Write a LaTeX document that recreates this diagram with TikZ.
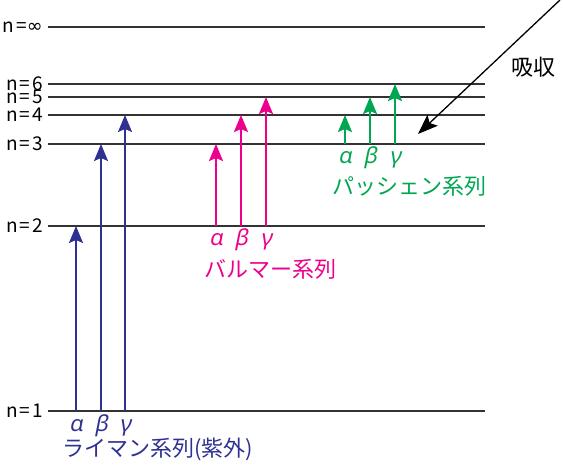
\documentclass[tikz,border=0pt]{standalone}
\usepackage{fontspec}
\setmainfont{Noto Sans CJK JP}
\newfontfamily\grk{Noto Sans}[FakeSlant=0.2]
\newfontfamily\lvfont{Noto Sans CJK JP}[LetterSpace=10]
\newfontfamily\inffont{DejaVu Sans}
\usetikzlibrary{arrows.meta, positioning}
\definecolor{lyman}{RGB}{46, 49, 146}
\definecolor{balmer}{RGB}{236, 0, 140}
\definecolor{paschen}{RGB}{0, 166, 81}

\begin{document}
\begin{tikzpicture}[x=1pt, y=-1pt,
  level/.style={draw=black!80, line width=1.1pt},
  nlab/.style={anchor=east, inner sep=0pt, xshift=-5pt, font=\fontsize{19}{19}\selectfont\lvfont},
  trans/.style={line width=1.8pt, -{Stealth[length=17pt, width=14pt, inset=3pt]}},
  greek/.style={anchor=base, inner sep=0pt, font=\fontsize{22}{22}\selectfont\grk},
  series/.style={anchor=west, inner sep=0pt, font=\fontsize{22}{22}\selectfont}]
  \useasboundingbox (0,0) rectangle (563,468);
  % energy levels
  \foreach \n/\y/\lab in {inf/27/{\inffont ∞}, 6/84/6, 5/97/5, 4/115/4, 3/144/3, 2/226/2, 1/411/1} {
    \coordinate (n\n) at (48,\y);
    \coordinate (e\n) at (485,\y);
    \draw[level] (n\n) -- (e\n);
    \node[nlab] (lab\n) at (n\n) {n=\lab};
  }
  % Lyman
  \foreach \x/\top/\g/\sym in {76/2/a/α, 101/3/b/β, 125/4/c/γ} {
    \coordinate (ly\g) at (\x,411);
    \draw[trans, lyman] (ly\g) -- (ly\g |- n\top);
    \path (ly\g) ++(0,20) node[greek, lyman] (lyl\g) {\sym};
  }
  \node[series, lyman] (lyman) at (62,449) {ライマン系列(紫外)};
  % Balmer
  \foreach \x/\top/\g/\sym in {216/3/a/α, 241/4/b/β, 266/5/c/γ} {
    \coordinate (ba\g) at (\x,226);
    \draw[trans, balmer] (ba\g) -- (ba\g |- n\top);
    \path (ba\g) ++(0,20) node[greek, balmer] (bal\g) {\sym};
  }
  \node[series, balmer] (balmer) at (204,269) {バルマー系列};
  % Paschen
  \foreach \x/\top/\g/\sym in {345/4/a/α, 370/5/b/β, 395/6/c/γ} {
    \coordinate (pa\g) at (\x,144);
    \draw[trans, paschen] (pa\g) -- (pa\g |- n\top);
    \path (pa\g) ++(0,20) node[greek, paschen] (pal\g) {\sym};
  }
  \node[series, paschen] (paschen) at (332,186) {パッシェン系列};
  % absorption
  \coordinate (absS) at (560,0);
  \coordinate (absE) at (418,134);
  \draw[line width=1.3pt, -{Stealth[length=20pt, width=15pt, inset=4pt]}] (absS) -- (absE);
  \node[font=\fontsize{22}{22}\selectfont] (abs) at (533,67) {吸収};
\end{tikzpicture}
\end{document}
